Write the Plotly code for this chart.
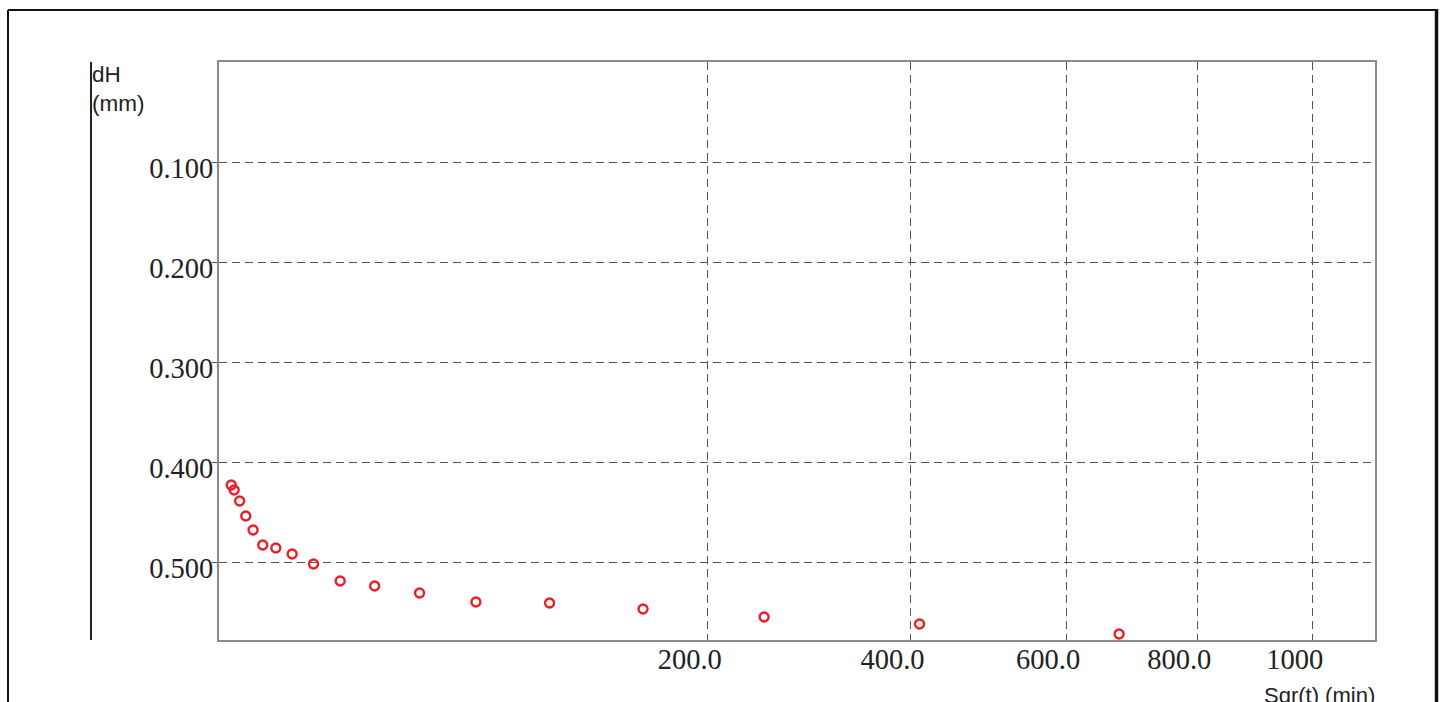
import numpy as np
import plotly.graph_objects as go

# Settlement readings: elapsed time (min) and vertical deformation dH (mm)
time_min = [0.14, 0.21, 0.38, 0.63, 1.01, 1.65, 2.76, 4.55, 7.57, 12.4,
            20.4, 33.8, 55.4, 91.6, 150.6, 248.7, 410.5, 677.4]
dh_mm = [0.423, 0.428, 0.439, 0.454, 0.468, 0.483, 0.486, 0.492, 0.502, 0.519,
         0.524, 0.531, 0.540, 0.541, 0.547, 0.555, 0.562, 0.572]

# Axis ticks (x axis is drawn on a square-root time scale)
x_tick_times = [200, 400, 600, 800, 1000]
x_tick_text = ["200.0", "400.0", "600.0", "800.0", "1000"]
y_tick_vals = [0.1, 0.2, 0.3, 0.4, 0.5]
y_tick_text = ["0.100", "0.200", "0.300", "0.400", "0.500"]

W, H = 1445, 702
ML, MR, MT, MB = 219, 70, 62, 62
PW, PH = W - ML - MR, H - MT - MB


def px_x(p):
    return (p - ML) / PW


def px_y(p):
    return (H - MB - p) / PH


fig = go.Figure()
fig.add_trace(go.Scatter(
    x=np.sqrt(time_min), y=dh_mm, mode="markers",
    marker=dict(symbol="circle-open", size=9, color="#e8202a",
                line=dict(width=2.4, color="#e8202a")),
    showlegend=False, hoverinfo="skip",
))

grid = dict(showgrid=True, gridcolor="#555555", gridwidth=1, griddash="8px,5px")
tick_font = dict(family="Liberation Serif", size=28.5, color="#222222")

fig.update_xaxes(
    range=[0.02, 33.42], tickvals=np.sqrt(x_tick_times).tolist(), ticktext=x_tick_text,
    ticks="", showline=True, linecolor="#8a8a8a", linewidth=2, mirror=True,
    zeroline=False, tickfont=tick_font,
    ticklabelshift=-18, ticklabelstandoff=-7, **grid,
)
fig.update_yaxes(
    range=[0.578, 0.0], tickvals=y_tick_vals, ticktext=y_tick_text,
    ticks="outside", ticklen=5, tickcolor="#555555", showline=True,
    linecolor="#8a8a8a", linewidth=2, mirror=True, zeroline=False,
    tickfont=tick_font, ticklabelshift=-6, ticklabelstandoff=-7, **grid,
)

shapes = [
    # page frame
    dict(type="line", xref="paper", yref="paper", x0=px_x(8), x1=px_x(1436.5),
         y0=px_y(10), y1=px_y(10), line=dict(color="#111111", width=2)),
    dict(type="line", xref="paper", yref="paper", x0=px_x(8), x1=px_x(8),
         y0=px_y(10), y1=px_y(720), line=dict(color="#111111", width=2)),
    dict(type="line", xref="paper", yref="paper", x0=px_x(1436.5), x1=px_x(1436.5),
         y0=px_y(9), y1=px_y(720), line=dict(color="#111111", width=3.5)),
    # vertical scale bar on the left
    dict(type="line", xref="paper", yref="paper", x0=px_x(91), x1=px_x(91),
         y0=px_y(62), y1=px_y(640), line=dict(color="#222222", width=2)),
]

annotations = [
    dict(text="dH<br>(mm)", xref="paper", yref="paper", x=px_x(90), y=px_y(60),
         xanchor="left", yanchor="top", align="left", showarrow=False,
         font=dict(family="Liberation Sans", size=22.5, color="#222222")),
    dict(text="Sqr(t) (min)", xref="paper", yref="paper", x=px_x(1377), y=px_y(681),
         xanchor="right", yanchor="top", showarrow=False,
         font=dict(family="Liberation Sans", size=22, color="#222222")),
]

fig.update_layout(
    width=W, height=H, margin=dict(l=ML, r=MR, t=MT, b=MB),
    paper_bgcolor="white", plot_bgcolor="white",
    shapes=shapes, annotations=annotations,
)

fig.write_html("out.html")
